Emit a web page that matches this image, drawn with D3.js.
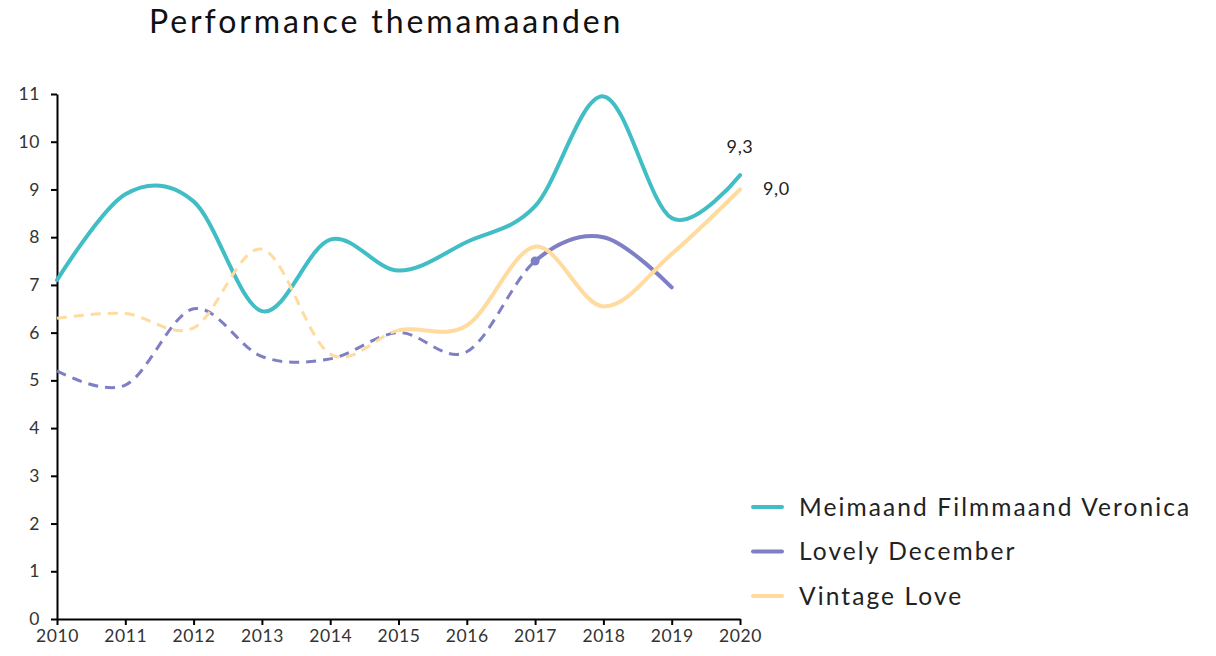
<!DOCTYPE html>
<html>
<head>
<meta charset="utf-8">
<script src="https://cdn.jsdelivr.net/npm/d3@7"></script>
<style>
  body { margin: 0; background: #fff; }
  svg { font-family: Lato, "Open Sans", sans-serif; }
</style>
</head>
<body>
<script>
/* DATA */
var years    = [2010, 2011, 2012, 2013, 2014, 2015, 2016, 2017, 2018, 2019, 2020];
var yTicks   = [0, 1, 2, 3, 4, 5, 6, 7, 8, 9, 10, 11];
var veronica = [7.1, 8.9, 8.75, 6.45, 7.95, 7.3, 7.9, 8.65, 10.95, 8.4, 9.3];
var december = [5.2, 4.9, 6.5, 5.5, 5.45, 6.0, 5.6, 7.5, 8.0, 6.95, null];
var vintage  = [6.3, 6.4, 6.1, 7.75, 5.55, 6.05, 6.15, 7.8, 6.55, 7.65, 9.0];

var names   = ['Meimaand Filmmaand Veronica', 'Lovely December', 'Vintage Love'];
var colors  = ['#41bdc5', '#7f7fc5', '#ffdb9f'];
var dashTo  = [null, 2017, 2015];   // dashed up to this year, solid after
var labels  = [{ i: 0, text: '9,3' }, { i: 2, text: '9,0' }];

/* LAYOUT */
var W = 1216, H = 656;
var svg = d3.select('body').append('svg').attr('width', W).attr('height', H);

var x = d3.scaleLinear().domain([2010, 2020]).range([57, 740]);
var y = d3.scaleLinear().domain([0, 11]).range([619, 94]);

/* TITLE */
svg.append('text')
  .attr('x', 149).attr('y', 33)
  .attr('font-size', 32).attr('fill', '#111')
  .attr('letter-spacing', 2.9)
  .text('Performance themamaanden');

/* AXES */
var yAxis = svg.append('g')
  .attr('transform', 'translate(57,0)')
  .call(d3.axisLeft(y).tickValues(yTicks).tickSize(6).tickSizeOuter(0).tickPadding(11));
var xAxis = svg.append('g')
  .attr('transform', 'translate(0,619)')
  .call(d3.axisBottom(x).tickValues(years).tickFormat(d3.format('d')).tickSize(6).tickSizeOuter(0).tickPadding(5));

[yAxis, xAxis].forEach(function(a){
  a.select('.domain').attr('stroke', '#000').attr('stroke-width', 2);
  a.selectAll('.tick line').attr('stroke', '#000').attr('stroke-width', 2);
  a.selectAll('.tick text').attr('font-size', 17.5).attr('fill', '#333')
    .attr('letter-spacing', 0.6)
    .attr('font-family', 'Lato, sans-serif');
});

/* CLIPS */
var defs = svg.append('defs');
function clip(id, x0, x1){
  defs.append('clipPath').attr('id', id)
    .append('rect').attr('x', x0).attr('y', 0).attr('width', x1 - x0).attr('height', H);
}

/* LINES */
var series = [veronica, december, vintage];
var line = d3.line()
  .defined(function(d){ return d != null; })
  .x(function(d, i){ return x(years[i]); })
  .y(function(d){ return y(d); })
  .curve(d3.curveCardinal.tension(0));

series.forEach(function(s, k){
  var split = dashTo[k];
  if (split == null) {
    svg.append('path').attr('d', line(s))
      .attr('fill', 'none').attr('stroke', colors[k])
      .attr('stroke-width', 4).attr('stroke-linecap', 'round');
    return;
  }
  clip('dash' + k, 0, x(split));
  clip('solid' + k, x(split), W);
  svg.append('path').attr('d', line(s))
    .attr('clip-path', 'url(#dash' + k + ')')
    .attr('fill', 'none').attr('stroke', colors[k])
    .attr('stroke-width', 3).attr('stroke-dasharray', '10,7');
  svg.append('path').attr('d', line(s))
    .attr('clip-path', 'url(#solid' + k + ')')
    .attr('fill', 'none').attr('stroke', colors[k])
    .attr('stroke-width', 4).attr('stroke-linecap', 'round');
});

/* marker at start of solid Lovely December */
svg.append('circle')
  .attr('cx', x(2017)).attr('cy', y(december[7])).attr('r', 4.5)
  .attr('fill', colors[1]);

/* DATA LABELS */
svg.append('text').attr('x', x(2020)).attr('y', y(veronica[10]) - 22)
  .attr('text-anchor', 'middle').attr('font-size', 18).attr('fill', '#222')
  .attr('letter-spacing', 0.6)
  .text(labels[0].text);
svg.append('text').attr('x', x(2020) + 23).attr('y', y(vintage[10]) + 6)
  .attr('text-anchor', 'start').attr('font-size', 18).attr('fill', '#222')
  .attr('letter-spacing', 0.6)
  .text(labels[1].text);

/* LEGEND */
var legend = svg.append('g').attr('transform', 'translate(753,507)');
names.forEach(function(n, k){
  var g = legend.append('g').attr('transform', 'translate(0,' + (k * 44.5) + ')');
  g.append('line').attr('x1', 0).attr('x2', 29).attr('y1', 0).attr('y2', 0)
    .attr('stroke', colors[k]).attr('stroke-width', 4).attr('stroke-linecap', 'round');
  g.append('text').attr('x', 46).attr('y', 8.5)
    .attr('font-size', 24.5).attr('fill', '#222').attr('letter-spacing', 2.1)
    .text(n);
});
</script>
</body>
</html>
